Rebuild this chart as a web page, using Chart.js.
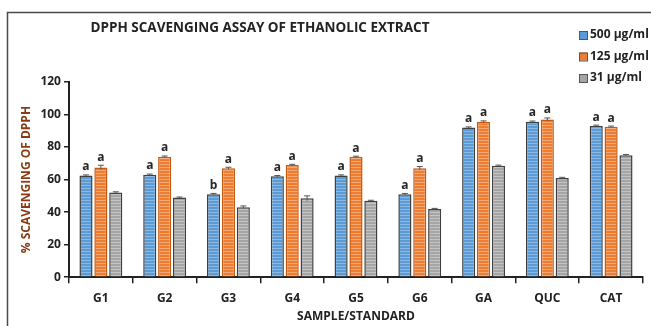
<!DOCTYPE html>
<html>
<head>
<meta charset="utf-8">
<script src="https://cdn.jsdelivr.net/npm/chart.js@4/dist/chart.umd.min.js"></script>
<style>
  html, body { margin: 0; padding: 0; background: #fff; }
  #wrap { width: 651px; height: 326px; position: relative; }
</style>
</head>
<body>
<div id="wrap"><canvas id="grafico" width="651" height="326"></canvas></div>
<script>
// data
const muestras = ["G1", "G2", "G3", "G4", "G5", "G6", "GA", "QUC", "CAT"];
const series = ["500 μg/ml", "125 μg/ml", "31 μg/ml"];
const valores500 = [62.5, 63, 51, 62, 62.5, 51, 92, 95.5, 93];
const valores125 = [67.5, 74, 67, 69, 74, 67, 95.5, 97, 92.5];
const valores31 = [52, 49, 43, 48.5, 47, 42, 68.5, 61, 75];
const error500 = [0.4, 0.4, 0.5, 0.5, 0.4, 0.5, 0.4, 0.5, 0.5];
const error125 = [1.3, 0.5, 0.6, 0.4, 0.4, 1.0, 0.6, 0.9, 0.4];
const error31 = [0.5, 0.3, 0.8, 1.5, 0.3, 0.3, 0.4, 0.4, 0.4];
const letras500 = ["a", "a", "b", "a", "a", "a", "a", "a", "a"];
const letras125 = ["a", "a", "a", "a", "a", "a", "a", "a", "a"];
const letras31 = ["", "", "", "", "", "", "", "", ""];
const yTicks = [0, 20, 40, 60, 80, 100, 120];

const fuente = "'Open Sans', 'Liberation Sans', sans-serif";

function rayado(base, linea) {
    let c = document.createElement("canvas");
    c.width = 4;
    c.height = 3;
    let g = c.getContext("2d");
    g.fillStyle = base;
    g.fillRect(0, 0, 4, 3);
    g.fillStyle = linea;
    g.fillRect(0, 2, 4, 1);
    return g.createPattern(c, "repeat");
}

const rellenos = [rayado("#5b9bd5", "#8db8e2"), rayado("#ed7d31", "#f3a877"), rayado("#a5a5a5", "#c4c4c4")];
const bordes = ["#3f3f3f", "#c55a11", "#3f3f3f"];
const colLeyenda = ["#5b9bd5", "#ed7d31", "#a5a5a5"];
const errores = [error500, error125, error31];
const letras = [letras500, letras125, letras31];

const extras = {
    id: "extras",
    beforeDraw(chart) {
        const ctx = chart.ctx;
        ctx.save();
        ctx.strokeStyle = "#4a4a4a";
        ctx.lineWidth = 1.5;
        ctx.beginPath();
        ctx.moveTo(7.5, 326);
        ctx.lineTo(7.5, 12.5);
        ctx.lineTo(651, 12.5);
        ctx.stroke();
        ctx.restore();
    },
    afterDatasetsDraw(chart) {
        const ctx = chart.ctx;
        const y = chart.scales.y;
        ctx.save();
        chart.data.datasets.forEach((ds, i) => {
            const meta = chart.getDatasetMeta(i);
            meta.data.forEach((bar, j) => {
                const v = ds.data[j];
                const top = y.getPixelForValue(v + errores[i][j]);
                const bot = y.getPixelForValue(v - errores[i][j]);
                ctx.strokeStyle = "#555";
                ctx.lineWidth = 1;
                ctx.beginPath();
                ctx.moveTo(bar.x, top);
                ctx.lineTo(bar.x, bot);
                ctx.moveTo(bar.x - 3, top);
                ctx.lineTo(bar.x + 3, top);
                ctx.stroke();
                if (letras[i][j]) {
                    ctx.fillStyle = "#262626";
                    ctx.font = "bold 12px " + fuente;
                    ctx.textAlign = "center";
                    ctx.textBaseline = "bottom";
                    ctx.fillText(letras[i][j], bar.x, top - 2);
                }
            });
        });
        // title
        ctx.fillStyle = "#222";
        ctx.font = "bold 13.5px " + fuente;
        ctx.textAlign = "center";
        ctx.textBaseline = "middle";
        ctx.fillText("DPPH SCAVENGING ASSAY OF ETHANOLIC EXTRACT", 260, 28);
        // legend
        ctx.font = "bold 12px " + fuente;
        ctx.textAlign = "left";
        series.forEach((s, i) => {
            const ly = 35 + i * 21.5;
            ctx.fillStyle = colLeyenda[i];
            ctx.fillRect(579, ly - 4, 8, 8);
            ctx.strokeStyle = "#555";
            ctx.lineWidth = 1;
            ctx.strokeRect(579.5, ly - 3.5, 8, 8);
            ctx.fillStyle = "#222";
            ctx.fillText(s, 590, ly);
        });
        ctx.restore();
    }
};

const datasets = [valores500, valores125, valores31].map((d, i) => ({
    label: series[i],
    data: d,
    backgroundColor: rellenos[i],
    borderColor: bordes[i],
    borderWidth: 1.5,
    categoryPercentage: 0.7,
    barPercentage: 0.88
}));

new Chart(document.getElementById("grafico").getContext("2d"), {
    type: "bar",
    data: { labels: muestras, datasets: datasets },
    plugins: [extras],
    options: {
        responsive: false,
        animation: false,
        layout: { padding: { top: 82, right: 8, left: 19, bottom: 0 } },
        plugins: {
            legend: { display: false },
            tooltip: { enabled: false }
        },
        scales: {
            x: {
                grid: { display: true, drawOnChartArea: false, offset: true, color: "#222", tickLength: 6, lineWidth: 1.5 },
                border: { color: "#222", width: 2 },
                ticks: { color: "#222", font: { family: fuente, size: 12, weight: "bold" }, padding: 8 },
                title: { display: true, text: "SAMPLE/STANDARD", color: "#222", font: { family: fuente, size: 12, weight: "bold" }, padding: { top: -4, bottom: 2 } }
            },
            y: {
                min: 0,
                max: 120,
                afterBuildTicks: (axis) => { axis.ticks = yTicks.map(v => ({ value: v })); },
                grid: { display: true, drawOnChartArea: false, color: "#222", tickLength: 5, lineWidth: 1.5 },
                border: { color: "#222", width: 2 },
                ticks: { color: "#222", font: { family: fuente, size: 12, weight: "bold" }, padding: 3 },
                title: { display: true, text: "% SCAVENGING OF DPPH", color: "#8a3b12", font: { family: fuente, size: 12, weight: "bold" }, padding: { top: 0, bottom: 4 } }
            }
        }
    }
});
</script>
</body>
</html>
